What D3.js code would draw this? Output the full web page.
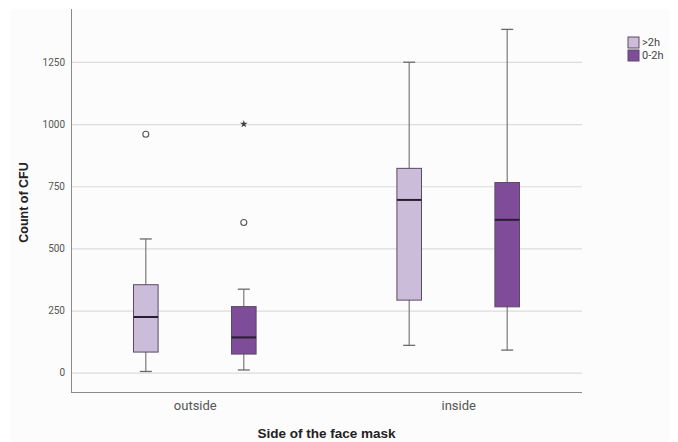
<!DOCTYPE html>
<html>
<head>
<meta charset="utf-8">
<script src="https://cdn.jsdelivr.net/npm/d3@7"></script>
<style>
  body { margin: 0; background: #fff; }
  svg { display: block; font-family: "Liberation Sans", Arial, sans-serif; }
</style>
</head>
<body>
<div id="chart"></div>
<script>
// data
const sides = ["outside", "inside"];
const groups = [">2h", "0-2h"];
const groupColors = ["#cbbcd9", "#7f4c9a"];

// [min, q1, median, q3, max] per side, per group
const boxOutsideLong = [5, 83, 224, 354, 538];
const boxOutsideShort = [11, 75, 142, 266, 336];
const boxInsideLong = [110, 292, 695, 822, 1249];
const boxInsideShort = [91, 265, 615, 765, 1381];

// outliers: circles and extremes (stars)
const outlierCircles = [
  { side: "outside", group: ">2h", value: 959 },
  { side: "outside", group: "0-2h", value: 604 }
];
const outlierStars = [
  { side: "outside", group: "0-2h", value: 1000 }
];

const yTicks = [0, 250, 500, 750, 1000, 1250];

const boxes = [
  { side: "outside", group: ">2h", stats: boxOutsideLong },
  { side: "outside", group: "0-2h", stats: boxOutsideShort },
  { side: "inside", group: ">2h", stats: boxInsideLong },
  { side: "inside", group: "0-2h", stats: boxInsideShort }
];

const width = 678, height = 442;
const plot = { left: 71, right: 582, top: 9, bottom: 392 };

const svg = d3.select("#chart").append("svg")
  .attr("width", width)
  .attr("height", height);

// faint panel behind the chart
svg.append("rect")
  .attr("x", 10).attr("y", 9)
  .attr("width", 660).attr("height", 433)
  .attr("fill", "#fcfcfc");

const y = d3.scaleLinear()
  .domain([-77.6, 1463])
  .range([plot.bottom, plot.top]);

const x = d3.scalePoint()
  .domain(sides)
  .range([plot.left, plot.right])
  .padding(0.47);

const xSub = d3.scalePoint()
  .domain(groups)
  .range([-49, 49]);

const color = d3.scaleOrdinal().domain(groups).range(groupColors);

const boxW = 24.6;

// gridlines
svg.append("g")
  .selectAll("line")
  .data(yTicks)
  .enter()
  .append("line")
  .attr("x1", plot.left)
  .attr("x2", plot.right)
  .attr("y1", d => y(d) + 0.5)
  .attr("y2", d => y(d) + 0.5)
  .attr("stroke", "#dcdcdc")
  .attr("stroke-width", 1.2);

// y axis
const yAxis = svg.append("g")
  .attr("transform", `translate(${plot.left},0)`)
  .call(d3.axisLeft(y).tickValues(yTicks).tickFormat(d3.format("d")).tickSize(0).tickPadding(6));
yAxis.select(".domain").remove();
yAxis.selectAll("text")
  .attr("font-size", "10px")
  .attr("fill", "#555")
  .attr("font-family", "Roboto, 'Liberation Sans', sans-serif");

svg.append("line")
  .attr("x1", plot.left + 0.5).attr("x2", plot.left + 0.5)
  .attr("y1", plot.top).attr("y2", plot.bottom)
  .attr("stroke", "#8a8a8a");

// x axis
const xAxis = svg.append("g")
  .attr("transform", `translate(0,${plot.bottom})`)
  .call(d3.axisBottom(x).tickSize(0).tickPadding(9));
xAxis.select(".domain")
  .attr("d", `M${plot.left},0.5H${plot.right}`)
  .attr("stroke", "#8a8a8a");
xAxis.selectAll("text")
  .attr("font-size", "13px")
  .attr("fill", "#555")
  .attr("font-family", "Roboto, 'Liberation Sans', sans-serif");

// boxes
const cx = d => x(d.side) + xSub(d.group);

const box = svg.append("g")
  .selectAll("g")
  .data(boxes)
  .enter()
  .append("g");

box.append("line")
  .attr("x1", cx).attr("x2", cx)
  .attr("y1", d => y(d.stats[0]))
  .attr("y2", d => y(d.stats[4]))
  .attr("stroke", "#7a7a7a")
  .attr("stroke-width", 1.2);

box.selectAll(".cap")
  .data(d => [d, d])
  .enter()
  .append("line")
  .attr("x1", d => cx(d) - 6)
  .attr("x2", d => cx(d) + 6)
  .attr("y1", (d, i) => y(d.stats[i === 0 ? 0 : 4]))
  .attr("y2", (d, i) => y(d.stats[i === 0 ? 0 : 4]))
  .attr("stroke", "#6a6a6a")
  .attr("stroke-width", 1.3);

box.append("rect")
  .attr("x", d => cx(d) - boxW / 2)
  .attr("width", boxW)
  .attr("y", d => y(d.stats[3]))
  .attr("height", d => y(d.stats[1]) - y(d.stats[3]))
  .attr("fill", d => color(d.group))
  .attr("stroke", "#5b4a66")
  .attr("stroke-width", 1);

box.append("line")
  .attr("x1", d => cx(d) - boxW / 2)
  .attr("x2", d => cx(d) + boxW / 2)
  .attr("y1", d => y(d.stats[2]))
  .attr("y2", d => y(d.stats[2]))
  .attr("stroke", "#2b1c35")
  .attr("stroke-width", 2);

// outliers
svg.append("g")
  .selectAll("circle")
  .data(outlierCircles)
  .enter()
  .append("circle")
  .attr("cx", cx)
  .attr("cy", d => y(d.value))
  .attr("r", 3)
  .attr("fill", "none")
  .attr("stroke", "#555")
  .attr("stroke-width", 1.1);

svg.append("g")
  .selectAll("path")
  .data(outlierStars)
  .enter()
  .append("path")
  .attr("d", d3.symbol().type(d3.symbolStar).size(18))
  .attr("transform", d => `translate(${cx(d)},${y(d.value)})`)
  .attr("fill", "#444");

// axis titles
svg.append("text")
  .attr("transform", `translate(28,${(plot.top + plot.bottom) / 2 + 2}) rotate(-90)`)
  .attr("text-anchor", "middle")
  .attr("font-size", "12.5px")
  .attr("font-weight", "bold")
  .attr("fill", "#222")
  .text("Count of CFU");

svg.append("text")
  .attr("x", (plot.left + plot.right) / 2)
  .attr("y", 438)
  .attr("text-anchor", "middle")
  .attr("font-size", "13.5px")
  .attr("font-weight", "bold")
  .attr("fill", "#222")
  .text("Side of the face mask");

// legend
const legend = svg.append("g").attr("transform", "translate(628,37)");
groups.forEach((g, i) => {
  legend.append("rect")
    .attr("x", 0).attr("y", i * 13)
    .attr("width", 11).attr("height", 11)
    .attr("fill", color(g))
    .attr("stroke", "#5b4a66");
  legend.append("text")
    .attr("x", 14)
    .attr("y", i * 13 + 6)
    .attr("dominant-baseline", "middle")
    .attr("font-size", "11px")
    .attr("fill", "#444")
    .attr("font-family", "Roboto, 'Liberation Sans', sans-serif")
    .text(g);
});
</script>
</body>
</html>
